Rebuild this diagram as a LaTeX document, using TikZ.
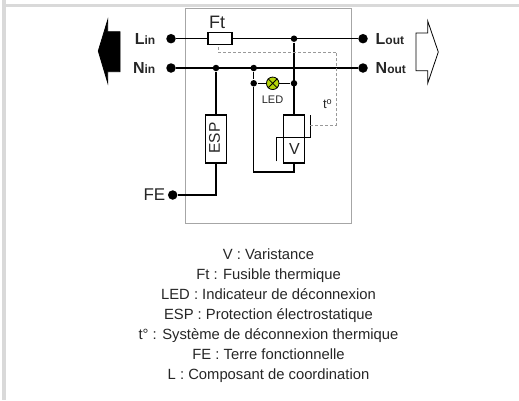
\documentclass[tikz,border=0pt]{standalone}
\usepackage{fontspec}
\setmainfont{Liberation Sans}
\usepackage{tikz}
\usepackage{xcolor}
\definecolor{ledgreen}{HTML}{B5D40A}
\definecolor{framegrey}{HTML}{D9D9D9}
\newcommand{\sublabel}[2]{\textbf{#1}{\fontsize{12}{14}\selectfont\textbf{#2}}}

\begin{document}
\begin{tikzpicture}[x=1pt, y=-1pt, font=\fontsize{14.8}{17}\selectfont, line width=1.4pt,
  terminal/.style={circle, fill=black, inner sep=0, minimum size=9.5pt},
  junction/.style={circle, fill=black, inner sep=0, minimum size=6.5pt},
  part/.style={draw, fill=white, inner sep=0, line width=1.1pt},
  thermal/.style={draw=gray!80, densely dashed, line width=0.6pt},
  caption/.style={inner sep=0, text=black!85, text height=10.5pt, text depth=3pt},
  lbl/.style={text=black!85, inner sep=0, font=\fontsize{16}{18}\selectfont}]
\useasboundingbox (0,0) rectangle (519,400);
\fill[framegrey] (2,0) rectangle (6,400);
\fill[framegrey] (6,4) rectangle (519,7);
\draw[gray!70, line width=0.8pt] (185.5,8) rectangle (351.7,223);
% terminals and junctions
\foreach \X/\A/\B in {Lin/171/38.7, Nin/171/68, Lout/363/38.7, Nout/363/68, FE/172.7/195}
{\node[terminal] (\X) at (\A,\B) {};}
\foreach \X/\A/\B in {jnA/216/68, jnB/253.7/68, jnC/253.7/83.3, jnD/294/38.7, jnE/294/83.3}
{\node[junction] (\X) at (\A,\B) {};}
% wires
\draw (Lin) -- (Lout);
\draw (Nin) -- (Nout);
\draw (jnB) -- (jnC) (jnC) -- (jnE);
\coordinate (loopR) at (294,172);
\coordinate (loopL) at (253.7,172);
\draw (jnD) -- (loopR) -- (loopL) -- (jnC);
\coordinate (feBend) at (216,195);
\draw (FE) -- (feBend) -- (jnA);
% parts
\node[part, minimum width=24pt, minimum height=12pt] (Ft) at (220,38.7) {};
\node[part, minimum width=21pt, minimum height=48pt] (ESP) at (216,139) {};
\node[part, minimum width=21pt, minimum height=48pt] (Var) at (294.2,139) {};
\node[draw, circle, fill=ledgreen, inner sep=0, minimum size=12.5pt, line width=0.8pt] (LED) at (272.7,83.3) {};
\draw[line width=0.8pt] (LED.north west) -- (LED.south east) (LED.north east) -- (LED.south west);
% thermal link
\coordinate (slashA) at (276.7,161.3);
\coordinate (slashB) at (276.7,137.3);
\coordinate (slashC) at (310.3,137.3);
\coordinate (slashD) at (310.3,115);
\draw (slashA) -- (slashB) -- (slashC) -- (slashD);
\coordinate (dashA) at (310.3,125);
\coordinate (dashB) at (336.7,125);
\coordinate (dashC) at (336.7,52.3);
\coordinate (dashD) at (218.3,52.3);
\draw[thermal] (dashA) -- (dashB) -- (dashC) -- (dashD) -- (dashD |- Ft.south);
% arrows
\draw[fill=black, line width=0.8pt] (98.3,51) -- (107.7,20) -- (107.7,31.7) -- (120,31.7) -- (120,71.7) -- (107.7,71.7) -- (107.7,82.7) -- cycle;
\draw[fill=white, line width=0.8pt] (438.3,52) -- (427.7,21) -- (427.7,33) -- (416,33) -- (416,70.7) -- (427.7,70.7) -- (427.7,83.3) -- cycle;
% labels
\node[lbl, anchor=east] (LinLbl) at (156,38.7) {\sublabel{L}{in}};
\node[lbl, anchor=east] (NinLbl) at (156,68) {\sublabel{N}{in}};
\node[lbl, anchor=west] (LoutLbl) at (375,38.7) {\sublabel{L}{out}};
\node[lbl, anchor=west] (NoutLbl) at (375,68) {\sublabel{N}{out}};
\node[lbl, font=\fontsize{18}{20}\selectfont] (FtLbl) at (217,22) {Ft};
\node[lbl, font=\fontsize{17}{19}\selectfont, anchor=east] (FELbl) at (166,195) {FE};
\node[lbl, font=\fontsize{11}{13}\selectfont] (LEDLbl) at (272.5,100) {LED};
\node[lbl, font=\fontsize{13}{15}\selectfont] (tLbl) at (327.7,104) {t$^{\mathrm{o}}$};
\node[lbl, rotate=90, font=\fontsize{15.5}{17}\selectfont] (ESPLbl) at (214.5,138) {ESP};
\node[lbl, font=\fontsize{16}{18}\selectfont] (VLbl) at (294.5,149) {V};
% caption
\foreach \X [count=\N, evaluate=\N as \Y using 235.7+20*\N] in {V : Varistance, Ft : Fusible thermique, LED : Indicateur de déconnexion, ESP : Protection électrostatique, t° : Système de déconnexion thermique, FE : Terre fonctionnelle, L : Composant de coordination}
{\node[caption] (cap\N) at (268.5,\Y) {\X};}
\end{tikzpicture}
\end{document}
